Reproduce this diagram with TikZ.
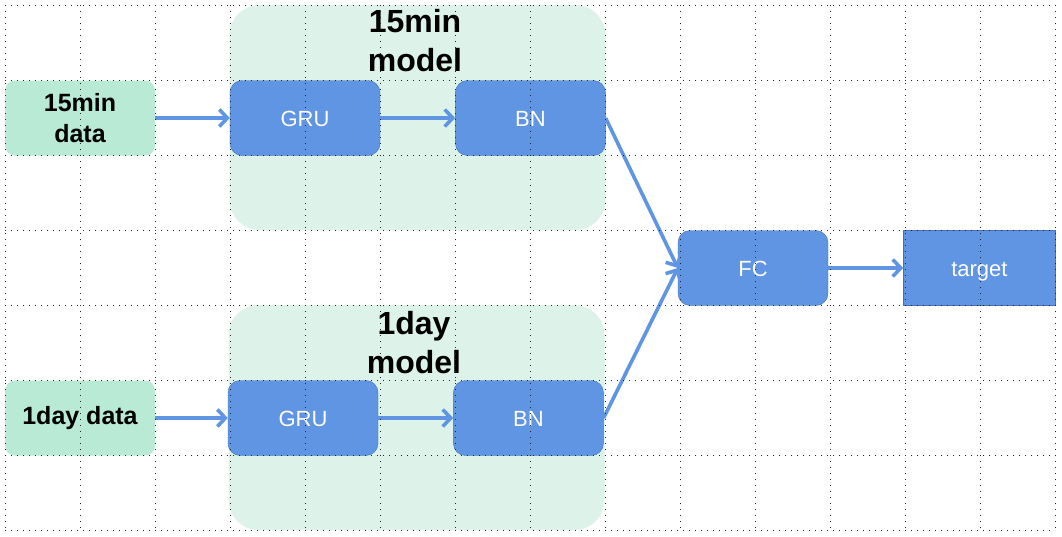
\documentclass[tikz,border=0pt]{standalone}
\usepackage{fontspec}
\setmainfont{Liberation Sans}
\usepackage{tikz}
\usetikzlibrary{positioning, arrows.meta}

\definecolor{blockblue}{HTML}{5F95E3}
\definecolor{blockedge}{HTML}{4A72B0}
\definecolor{datagreen}{HTML}{B9EAD5}
\definecolor{modelgreen}{HTML}{DDF3EA}

\tikzset{
  block/.style={draw=blockedge, fill=blockblue, text=white, rounded corners=12pt,
    minimum width=150pt, minimum height=75pt, inner sep=0pt,
    text height=16pt, text depth=0pt,
    font=\fontsize{22}{26}\selectfont},
  datain/.style={fill=datagreen, rounded corners=10pt, align=center,
    minimum width=150pt, minimum height=75pt, inner sep=0pt,
    font=\bfseries\fontsize{25}{31}\selectfont},
  modelbg/.style={fill=modelgreen, rounded corners=30pt,
    minimum width=376pt, minimum height=225pt, inner sep=0pt},
  modeltitle/.style={align=center, font=\bfseries\fontsize{32}{39}\selectfont},
  link/.style={-{Straight Barb[length=8pt,width=17pt]}, line width=3.6pt, blockblue},
  gridline/.style={black!85, line width=0.9pt, dash pattern=on 0.9pt off 5.1pt},
}

\begin{document}
\begin{tikzpicture}[x=1pt, y=-1pt]
\useasboundingbox (0,0) rectangle (1062,536);

% model backgrounds
\node[modelbg] (bg15) at (417.5,117.5) {};
\node[modelbg] (bg1d) at (416.5,417.5) {};
\node[modeltitle] (title15) at (415,41) {15min\\model};
\node[modeltitle] (title1d) at (414,343) {1day\\model};

% inputs
\node[datain] (data15) at (80,118) {15min\\data};
\node[datain] (data1d) at (80,418) {1day data};

% 15min branch
\node[block] (gru15) at (305,118) {GRU};
\node[block, right=75pt of gru15] (bn15) {BN};

% 1day branch
\node[block] (gru1d) at (303,418) {GRU};
\node[block, right=75pt of gru1d] (bn1d) {BN};

% head
\node[block] (fc) at (753,268) {FC};
\node[block, rounded corners=0pt, minimum width=152pt, right=75pt of fc] (target) {target};

% connectors
\draw[link] (data15) -- (gru15);
\draw[link] (gru15) -- (bn15);
\draw[link] (data1d) -- (gru1d);
\draw[link] (gru1d) -- (bn1d);
\draw[link] (bn15.east) -- (fc.west);
\draw[link] (bn1d.east) -- (fc.west);
\draw[link] (fc) -- (target);

% dotted grid
\foreach \gx in {0,...,14}
  \draw[gridline] ({5+75*\gx},5) -- ({5+75*\gx},530);
\foreach \gy in {0,...,7}
  \draw[gridline] (5,{5+75*\gy}) -- (1055,{5+75*\gy});
\end{tikzpicture}
\end{document}
